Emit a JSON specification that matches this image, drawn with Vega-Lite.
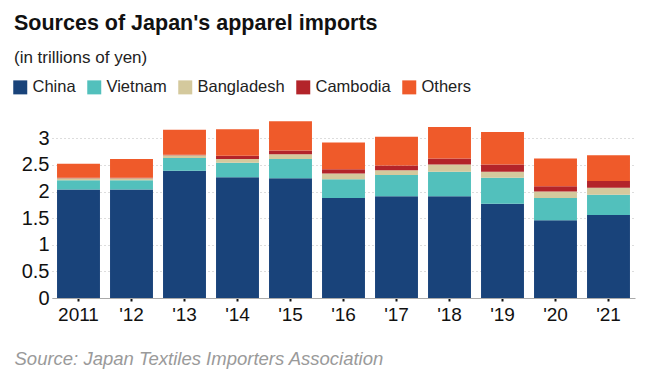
{
  "$schema": "https://vega.github.io/schema/vega-lite/v6.json",
  "width": 583,
  "height": 181,
  "autosize": "none",
  "padding": {"left": 52, "top": 117, "right": 25, "bottom": 71},
  "background": "white",
  "title": {
    "text": "Sources of Japan's apparel imports",
    "subtitle": "(in trillions of yen)",
    "anchor": "start",
    "frame": "group",
    "dx": -38,
    "font": "Liberation Sans",
    "fontSize": 21.5,
    "fontWeight": "bold",
    "color": "#111111",
    "subtitleFont": "Liberation Sans",
    "subtitleFontSize": 17,
    "subtitleColor": "#222222",
    "subtitlePadding": 16,
    "offset": 13
  },
  "config": {
    "view": {"stroke": null},
    "font": "Liberation Sans"
  },
  "data": {
    "values": [
      {"year": "2011", "source": "China", "value": 2.04},
      {"year": "2011", "source": "Vietnam", "value": 0.17},
      {"year": "2011", "source": "Bangladesh", "value": 0.04},
      {"year": "2011", "source": "Cambodia", "value": 0.01},
      {"year": "2011", "source": "Others", "value": 0.26},
      {"year": "'12", "source": "China", "value": 2.04},
      {"year": "'12", "source": "Vietnam", "value": 0.17},
      {"year": "'12", "source": "Bangladesh", "value": 0.04},
      {"year": "'12", "source": "Cambodia", "value": 0.01},
      {"year": "'12", "source": "Others", "value": 0.35},
      {"year": "'13", "source": "China", "value": 2.39},
      {"year": "'13", "source": "Vietnam", "value": 0.24},
      {"year": "'13", "source": "Bangladesh", "value": 0.05},
      {"year": "'13", "source": "Cambodia", "value": 0.01},
      {"year": "'13", "source": "Others", "value": 0.47},
      {"year": "'14", "source": "China", "value": 2.27},
      {"year": "'14", "source": "Vietnam", "value": 0.27},
      {"year": "'14", "source": "Bangladesh", "value": 0.07},
      {"year": "'14", "source": "Cambodia", "value": 0.06},
      {"year": "'14", "source": "Others", "value": 0.50},
      {"year": "'15", "source": "China", "value": 2.25},
      {"year": "'15", "source": "Vietnam", "value": 0.36},
      {"year": "'15", "source": "Bangladesh", "value": 0.09},
      {"year": "'15", "source": "Cambodia", "value": 0.07},
      {"year": "'15", "source": "Others", "value": 0.55},
      {"year": "'16", "source": "China", "value": 1.88},
      {"year": "'16", "source": "Vietnam", "value": 0.35},
      {"year": "'16", "source": "Bangladesh", "value": 0.11},
      {"year": "'16", "source": "Cambodia", "value": 0.08},
      {"year": "'16", "source": "Others", "value": 0.50},
      {"year": "'17", "source": "China", "value": 1.91},
      {"year": "'17", "source": "Vietnam", "value": 0.40},
      {"year": "'17", "source": "Bangladesh", "value": 0.09},
      {"year": "'17", "source": "Cambodia", "value": 0.09},
      {"year": "'17", "source": "Others", "value": 0.54},
      {"year": "'18", "source": "China", "value": 1.91},
      {"year": "'18", "source": "Vietnam", "value": 0.46},
      {"year": "'18", "source": "Bangladesh", "value": 0.14},
      {"year": "'18", "source": "Cambodia", "value": 0.11},
      {"year": "'18", "source": "Others", "value": 0.59},
      {"year": "'19", "source": "China", "value": 1.77},
      {"year": "'19", "source": "Vietnam", "value": 0.49},
      {"year": "'19", "source": "Bangladesh", "value": 0.11},
      {"year": "'19", "source": "Cambodia", "value": 0.14},
      {"year": "'19", "source": "Others", "value": 0.61},
      {"year": "'20", "source": "China", "value": 1.46},
      {"year": "'20", "source": "Vietnam", "value": 0.42},
      {"year": "'20", "source": "Bangladesh", "value": 0.12},
      {"year": "'20", "source": "Cambodia", "value": 0.10},
      {"year": "'20", "source": "Others", "value": 0.52},
      {"year": "'21", "source": "China", "value": 1.56},
      {"year": "'21", "source": "Vietnam", "value": 0.38},
      {"year": "'21", "source": "Bangladesh", "value": 0.13},
      {"year": "'21", "source": "Cambodia", "value": 0.13},
      {"year": "'21", "source": "Others", "value": 0.48}
    ]
  },
  "transform": [
    {"calculate": "indexof(['China','Vietnam','Bangladesh','Cambodia','Others'], datum.source)", "as": "rank"}
  ],
  "mark": {"type": "bar"},
  "encoding": {
    "x": {
      "field": "year",
      "type": "ordinal",
      "sort": null,
      "scale": {"paddingInner": 0.19, "paddingOuter": 0.095},
      "axis": {
        "title": "Source: Japan Textiles Importers Association",
        "titleFont": "Liberation Sans",
        "titleFontStyle": "italic",
        "titleFontWeight": "normal",
        "titleFontSize": 18.5,
        "titleColor": "#9a9a9a",
        "titleAnchor": "start",
        "titleAlign": "left",
        "titleX": -38,
        "titleY": 66,
        "titleBaseline": "alphabetic",
        "labelAngle": 0,
        "labelFontSize": 19,
        "labelColor": "#111111",
        "labelPadding": 4,
        "domainColor": "#aaaaaa",
        "domainWidth": 1,
        "tickColor": "#111111",
        "tickSize": 3,
        "tickWidth": 2
      }
    },
    "y": {
      "field": "value",
      "type": "quantitative",
      "stack": "zero",
      "scale": {"domain": [0, 3.4], "nice": false},
      "axis": {
        "title": null,
        "values": [0, 0.5, 1, 1.5, 2, 2.5, 3],
        "format": "~g",
        "labelFontSize": 20,
        "labelColor": "#111111",
        "labelPadding": 3,
        "domain": false,
        "ticks": false,
        "grid": true,
        "gridColor": "#bbbbbb",
        "gridDash": [1, 3],
        "gridWidth": 1
      }
    },
    "color": {
      "field": "source",
      "type": "nominal",
      "scale": {
        "domain": ["China", "Vietnam", "Bangladesh", "Cambodia", "Others"],
        "range": ["#19437a", "#52c0bc", "#d4c99d", "#b3242a", "#ef5a2a"]
      },
      "legend": {
        "title": null,
        "orient": "none",
        "direction": "horizontal",
        "legendX": -40,
        "legendY": -38,
        "symbolType": "square",
        "symbolSize": 196,
        "symbolStrokeWidth": 0,
        "labelFontSize": 16.5,
        "labelColor": "#222222",
        "labelOffset": 4,
        "columnPadding": 10
      }
    },
    "order": {"field": "rank", "type": "quantitative", "sort": "ascending"}
  }
}
